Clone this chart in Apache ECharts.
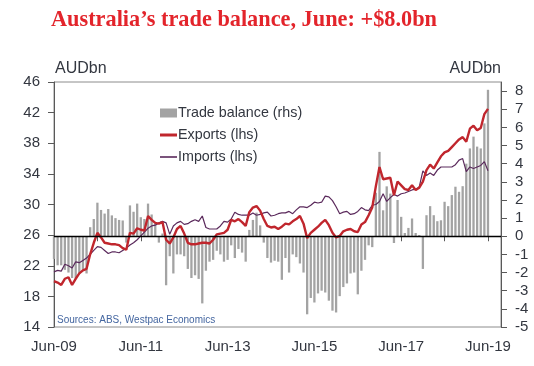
<!DOCTYPE html>
<html><head><meta charset="utf-8">
<script src="https://cdn.jsdelivr.net/npm/echarts@6/dist/echarts.min.js"></script>
<style>html,body{margin:0;padding:0;background:#fff}#c{width:534px;height:366px}</style>
</head><body><div id="c"></div>
<script>
// Monthly, Jun-09 (index 0) to Jun-19 (index 120)
const xTickLabels = ['Jun-09','Jun-11','Jun-13','Jun-15','Jun-17','Jun-19'];
const exportsLhs = [
20.0,19.8,19.5,20.3,20.5,19.5,20.3,21.0,21.4,21.6,
23.5,25.0,26.3,25.7,25.0,24.9,24.8,24.8,24.7,24.3,
24.1,26.3,26.2,26.9,26.7,26.6,28.5,28.0,27.6,27.5,
27.7,25.4,24.9,25.7,26.8,27.2,26.2,25.0,24.8,24.8,
24.9,25.0,25.0,24.9,25.4,26.1,26.2,26.3,26.7,28.0,
27.8,28.1,27.7,27.2,29.0,29.6,29.8,29.2,28.1,27.2,
27.0,27.1,26.8,27.1,27.5,27.4,27.8,28.1,28.5,27.5,
25.6,26.3,26.7,27.1,27.6,28.0,27.3,26.3,25.7,25.9,
26.5,26.7,26.8,26.5,26.4,27.4,27.7,28.6,29.6,32.4,
34.9,33.3,33.4,33.5,31.2,33.0,32.5,32.0,31.9,32.5,
31.9,32.2,33.0,34.5,35.2,34.7,35.5,36.3,36.8,37.0,
37.5,38.0,38.5,38.8,38.2,39.9,40.3,39.7,40.0,41.8,
42.5];
const importsLhs = [
21.2,21.4,21.3,22.2,22.0,21.7,22.5,22.4,22.7,23.0,
23.5,24.0,24.5,24.4,24.0,23.6,23.8,23.8,23.7,24.0,
24.3,24.7,25.0,25.4,25.9,26.4,26.9,27.2,27.3,27.6,
27.8,27.6,26.1,27.2,27.6,27.8,27.4,27.5,27.8,28.0,
27.8,28.5,27.0,26.8,26.8,26.8,27.2,27.8,27.7,28.1,
29.0,28.7,28.6,28.6,28.6,28.9,28.6,28.7,28.9,29.0,
28.5,28.6,28.8,28.9,28.9,29.1,28.8,29.3,29.7,29.7,
29.6,29.9,30.3,30.2,30.3,31.1,31.0,30.5,29.7,28.8,
29.0,29.1,28.7,28.8,29.1,29.6,29.3,29.2,29.9,30.0,
30.4,31.4,30.4,30.9,31.3,31.1,31.4,31.5,31.7,31.9,
32.0,32.3,34.4,33.8,34.1,33.8,34.5,34.9,34.9,34.9,
34.9,35.2,35.8,36.0,34.3,34.9,34.7,34.9,35.1,35.6,
34.4];
const tradeBalanceRhs = [
-1.25,-1.6,-1.6,-1.85,-2.0,-2.3,-2.35,-2.05,-1.85,-2.05,
0.5,0.95,1.85,1.45,1.25,1.5,1.15,1.0,0.9,0.87,
-0.35,1.7,1.35,1.8,1.05,0.95,1.8,1.2,0.7,-0.35,
0.15,-2.7,-1.1,-2.05,-1.0,-1.0,-1.1,-1.8,-2.3,-2.15,
-2.35,-3.7,-1.9,-1.4,-1.3,-0.8,-1.0,-1.4,-1.3,-0.5,
-1.2,-0.7,-0.9,-1.4,0.35,0.9,1.3,0.6,-0.35,-1.2,
-1.45,-1.35,-1.4,-2.4,-1.2,-2.0,-1.0,-1.15,-1.5,-2.0,
-4.3,-3.4,-3.65,-3.15,-3.0,-3.1,-3.55,-4.1,-4.2,-3.3,
-2.8,-2.6,-2.05,-2.0,-3.2,-1.9,-1.3,-0.5,-0.6,2.4,
4.65,1.43,2.75,2.35,-0.37,2.0,1.07,0.18,0.46,0.98,
0.18,0.07,-1.8,1.16,1.66,1.16,0.83,0.88,1.9,1.66,
2.27,2.73,2.45,2.76,4.0,4.84,5.49,4.94,4.84,6.22,
8.07];

const pairs = arr => arr.map((v, i) => [i, v]);
const axisCol = '#595959';
const txtCol = '#333740';
const chart = echarts.init(document.getElementById('c'), null, {renderer: 'canvas'});
chart.setOption({
  animation: false,
  backgroundColor: '#fff',
  title: {
    text: 'Australia\u2019s trade balance, June: +$8.0bn',
    left: 46, top: 4,
    textStyle: {fontFamily: 'Liberation Serif', fontWeight: 'bold', fontSize: 22.3, color: '#e3242b'}
  },
  grid: {left: 54, right: 33, top: 82, bottom: 39, show: true, borderColor: '#8c8c8c', borderWidth: 1},
  legend: {
    orient: 'vertical', left: 155, top: 101, itemGap: 8,
    itemWidth: 17, itemHeight: 9,
    textStyle: {fontFamily: 'Liberation Sans', fontSize: 14.3, color: txtCol, padding: [0, 0, 0, -4]},
    data: [
      {name: 'Trade balance (rhs)', icon: 'rect'},
      {name: 'Exports (lhs)', icon: 'path://M0,0H17V3H0Z'},
      {name: 'Imports (lhs)', icon: 'path://M0,0H17V1.6H0Z'}
    ]
  },
  graphic: [
    {type: 'text', left: 55, top: 61, style: {text: 'AUDbn', fontFamily: 'Liberation Sans', fontSize: 16, fill: txtCol}},
    {type: 'text', right: 33, top: 61, style: {text: 'AUDbn', fontFamily: 'Liberation Sans', fontSize: 16, fill: txtCol}},
    {type: 'text', left: 57, top: 315, style: {text: 'Sources: ABS, Westpac Economics', fontFamily: 'Liberation Sans', fontSize: 10, fill: '#4466a0'}}
  ],
  xAxis: {
    type: 'value', min: 0, max: 123.6, interval: 12,
    axisLine: {show: true, lineStyle: {color: axisCol, width: 1}},
    axisTick: {show: true, length: 5, lineStyle: {color: axisCol}},
    splitLine: {show: false},
    axisLabel: {
      showMaxLabel: false, margin: 12,
      fontFamily: 'Liberation Sans', fontSize: 15, color: txtCol,
      formatter: v => (v % 24 === 0 ? xTickLabels[v / 24] : '')
    }
  },
  yAxis: [
    {
      type: 'value', min: 14, max: 46, interval: 4, position: 'left',
      axisLine: {show: true, lineStyle: {color: axisCol}},
      axisTick: {show: true, length: 6, lineStyle: {color: axisCol}},
      splitLine: {show: false},
      axisLabel: {margin: 14, fontFamily: 'Liberation Sans', fontSize: 15, color: txtCol}
    },
    {
      type: 'value', min: -5, max: 8.5, interval: 1, position: 'right',
      axisLine: {show: true, lineStyle: {color: axisCol}},
      axisTick: {show: true, length: 6, lineStyle: {color: axisCol}},
      splitLine: {show: false},
      axisLabel: {showMaxLabel: false, margin: 14, fontFamily: 'Liberation Sans', fontSize: 15, color: txtCol}
    }
  ],
  series: [
    {
      name: 'Trade balance (rhs)', type: 'bar', yAxisIndex: 1,
      data: pairs(tradeBalanceRhs), barWidth: 2.3,
      itemStyle: {color: '#a3a3a3'},
      markLine: {
        silent: true, symbol: 'none', label: {show: false},
        lineStyle: {color: '#000', width: 1.4, type: 'solid'},
        data: [{yAxis: 0}]
      },
      z: 2
    },
    {
      name: 'Exports (lhs)', type: 'line', yAxisIndex: 0,
      data: pairs(exportsLhs), symbol: 'none',
      lineStyle: {color: '#c0262d', width: 2.4}, itemStyle: {color: '#c0262d'}, z: 4
    },
    {
      name: 'Imports (lhs)', type: 'line', yAxisIndex: 0,
      data: pairs(importsLhs), symbol: 'none',
      lineStyle: {color: '#5b2a5c', width: 1.2}, itemStyle: {color: '#5b2a5c'}, z: 3
    }
  ]
});
</script></body></html>
